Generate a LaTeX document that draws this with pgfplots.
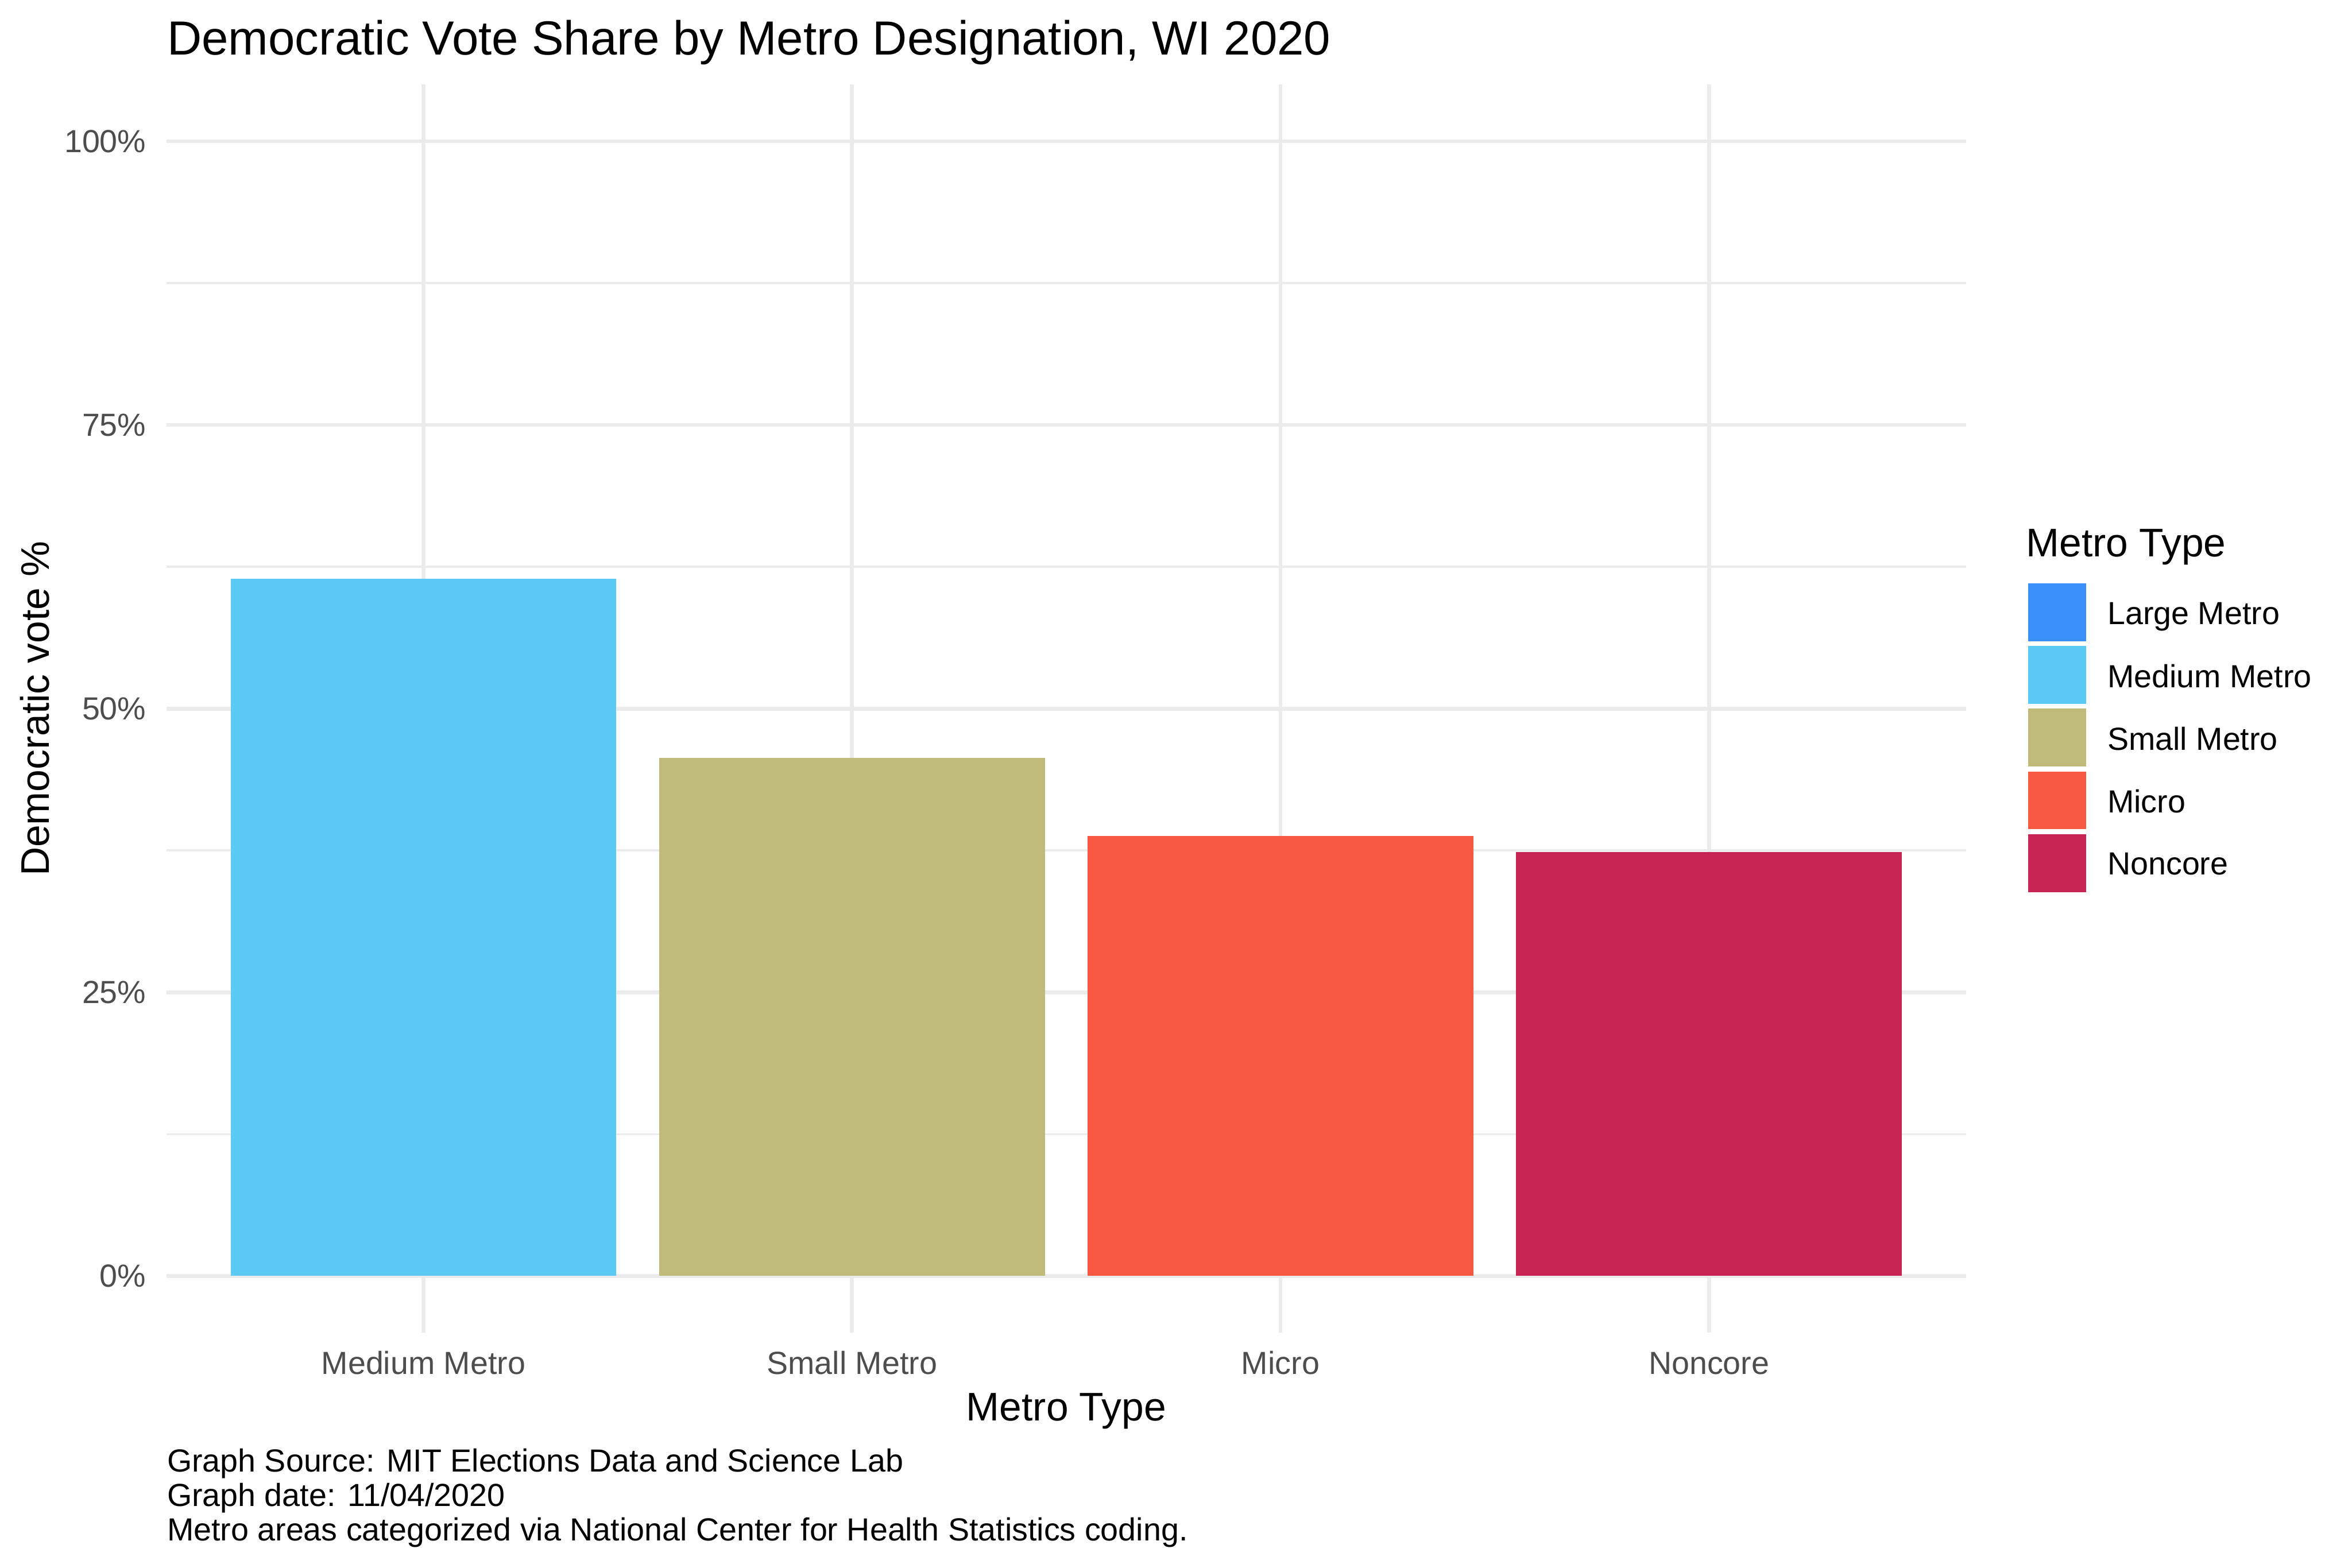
\documentclass[border=0pt]{standalone}
\usepackage{fontspec}
\setmainfont{Liberation Sans}
\usepackage{pgfplots}
\pgfplotsset{compat=1.18}
\definecolor{largec}{HTML}{3B8FF8}
\definecolor{medc}{HTML}{5BCBF5}
\definecolor{smallc}{HTML}{BFBA79}
\definecolor{microc}{HTML}{F75840}
\definecolor{noncorec}{HTML}{C72453}
\definecolor{gridc}{HTML}{EBEBEB}
\definecolor{tickc}{HTML}{4D4D4D}
\pgfplotsset{sqlegend/.style={legend image code/.code={\fill[##1,draw=none] (0pt,-6.98pt) rectangle (15.96pt,8.98pt);}}}
\begin{document}
\begin{tikzpicture}
\useasboundingbox (-45.84pt,-64.8pt) rectangle (602.16pt,367.2pt);
\begin{axis}[
  at={(0,0)}, anchor=south west,
  scale only axis, width=495.84pt, height=343.92pt,
  xmin=0.4, xmax=4.6, ymin=-5, ymax=105,
  clip=false,
  axis line style={draw=none},
  tick style={draw=none},
  major tick length=0pt, minor tick length=0pt,
  xtick={1,2,3,4},
  xticklabels={Medium Metro,Small Metro,Micro,Noncore},
  ytick={0,25,50,75,100},
  yticklabels={0\%,25\%,50\%,75\%,100\%},
  minor ytick={12.5,37.5,62.5,87.5},
  xmajorgrids, ymajorgrids, yminorgrids,
  major grid style={draw=gridc, line width=1.07pt},
  minor grid style={draw=gridc, line width=0.53pt},
  xticklabel style={anchor=base, yshift=-11.52pt, inner sep=0pt, font=\fontsize{8.8}{10}\selectfont, text=tickc},
  yticklabel style={anchor=east, xshift=-5.4pt, inner sep=0pt, font=\fontsize{8.8}{10}\selectfont, text=tickc},
  xlabel={Metro Type},
  ylabel={Democratic vote \%},
  xlabel style={at={(axis description cs:0.5,-0.07048)}, anchor=base, inner sep=0pt, font=\fontsize{11}{13}\selectfont},
  ylabel style={at={(axis description cs:-0.0651,0.5)}, anchor=base, rotate=0, inner sep=0pt, font=\fontsize{11}{13}\selectfont},
  legend cell align=left,
  legend style={at={(axis description cs:1.0346,0.6004)}, anchor=north west, draw=none, fill=none, inner sep=0pt, outer sep=0pt,
    row sep=1.32pt, column sep=0pt,
    nodes={inner sep=0pt, font=\fontsize{8.8}{10}\selectfont},
    /tikz/every odd column/.append style={column sep=5.84pt}},
]
\addlegendimage{sqlegend, fill=largec}
\addlegendentry{Large Metro}
\addplot[ybar, bar width=0.9, bar shift=0pt, fill=medc, draw=none, sqlegend] coordinates {(1,61.43)};
\addlegendentry{Medium Metro}
\addplot[ybar, bar width=0.9, bar shift=0pt, fill=smallc, draw=none, sqlegend] coordinates {(2,45.66)};
\addlegendentry{Small Metro}
\addplot[ybar, bar width=0.9, bar shift=0pt, fill=microc, draw=none, sqlegend] coordinates {(3,38.76)};
\addlegendentry{Micro}
\addplot[ybar, bar width=0.9, bar shift=0pt, fill=noncorec, draw=none, sqlegend] coordinates {(4,37.34)};
\addlegendentry{Noncore}
\node[anchor=base west, inner sep=0pt, font=\fontsize{13.2}{15}\selectfont] at (axis description cs:0,1.0237) {Democratic Vote Share by Metro Designation, WI 2020};
\node[anchor=base west, inner sep=0pt, font=\fontsize{11}{13}\selectfont] at (axis description cs:1.033,0.6217) {Metro Type};
\node[anchor=base west, inner sep=0pt, font=\fontsize{8.8}{10}\selectfont] at (axis description cs:0,-0.11165) {Graph Source: MIT Elections Data and Science Lab};
\node[anchor=base west, inner sep=0pt, font=\fontsize{8.8}{10}\selectfont] at (axis description cs:0,-0.13922) {Graph date: 11/04/2020};
\node[anchor=base west, inner sep=0pt, font=\fontsize{8.8}{10}\selectfont] at (axis description cs:0,-0.16678) {Metro areas categorized via National Center for Health Statistics coding.};
\end{axis}
\end{tikzpicture}
\end{document}
